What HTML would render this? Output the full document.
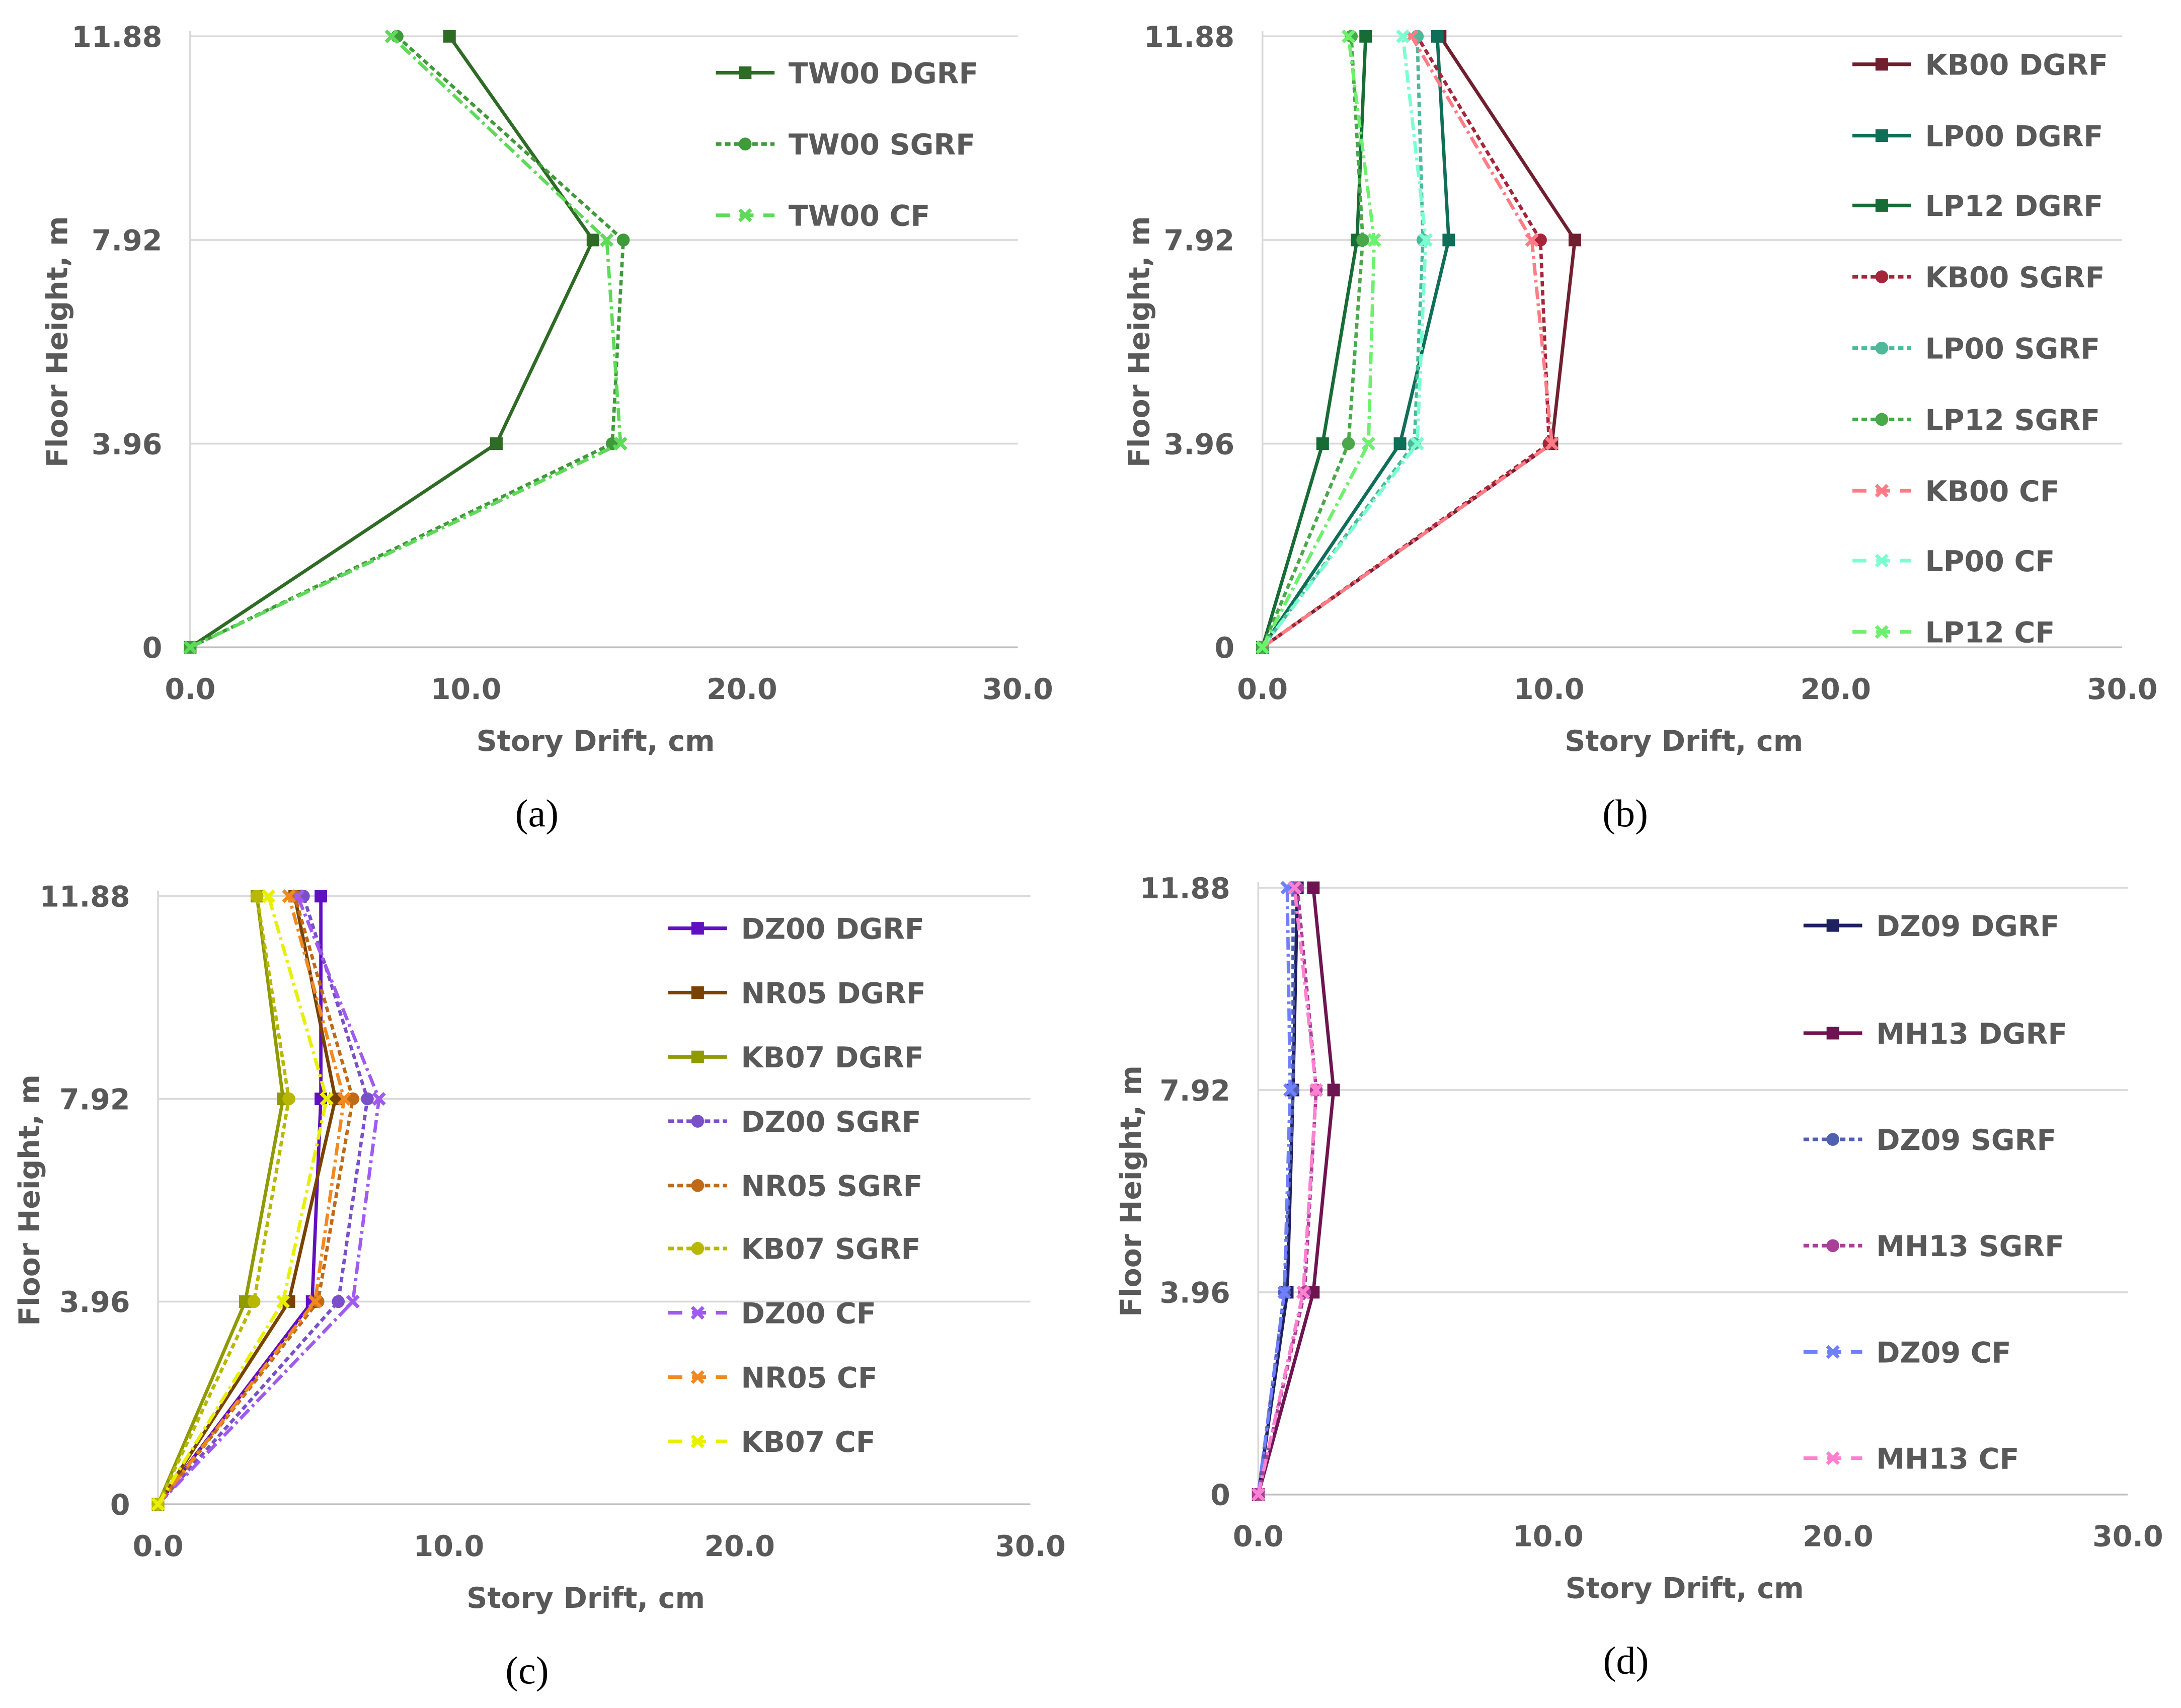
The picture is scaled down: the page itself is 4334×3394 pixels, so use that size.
<!DOCTYPE html>
<html><head><meta charset="utf-8"><style>
html,body{margin:0;padding:0;background:#fff}
svg{display:block}
</style></head><body>
<svg id="fig" width="4334" height="3394" viewBox="0 0 1560 1221.7" xmlns="http://www.w3.org/2000/svg"></svg>
<script>
// Heights (floor levels, m)
const heights = [0, 3.96, 7.92, 11.88];
const yTickLabels = ["0", "3.96", "7.92", "11.88"];
const xTicks = [0, 10, 20, 30];
const xTickLabels = ["0.0", "10.0", "20.0", "30.0"];

// Panel (a)
const a_TW00_DGRF = [0, 11.1, 14.6, 9.4];
const a_TW00_SGRF = [0, 15.3, 15.7, 7.5];
const a_TW00_CF = [0, 15.6, 15.1, 7.3];
// Panel (b)
const b_KB00_DGRF = [0, 10.1, 10.9, 6.2];
const b_LP00_DGRF = [0, 4.8, 6.5, 6.1];
const b_LP12_DGRF = [0, 2.1, 3.3, 3.6];
const b_KB00_SGRF = [0, 10.0, 9.7, 5.4];
const b_LP00_SGRF = [0, 5.3, 5.6, 5.4];
const b_LP12_SGRF = [0, 3.0, 3.5, 3.1];
const b_KB00_CF = [0, 10.1, 9.4, 5.2];
const b_LP00_CF = [0, 5.4, 5.7, 4.9];
const b_LP12_CF = [0, 3.7, 3.9, 3.0];
// Panel (c)
const c_DZ00_DGRF = [0, 5.3, 5.6, 5.6];
const c_NR05_DGRF = [0, 4.5, 6.1, 4.7];
const c_KB07_DGRF = [0, 3.0, 4.3, 3.4];
const c_DZ00_SGRF = [0, 6.2, 7.2, 5.0];
const c_NR05_SGRF = [0, 5.5, 6.7, 4.7];
const c_KB07_SGRF = [0, 3.3, 4.5, 3.4];
const c_DZ00_CF = [0, 6.7, 7.6, 4.8];
const c_NR05_CF = [0, 5.4, 6.4, 4.5];
const c_KB07_CF = [0, 4.3, 5.8, 3.8];
// Panel (d)
const d_DZ09_DGRF = [0, 1.0, 1.2, 1.35];
const d_MH13_DGRF = [0, 1.9, 2.6, 1.9];
const d_DZ09_SGRF = [0, 0.9, 1.2, 1.2];
const d_MH13_SGRF = [0, 1.6, 2.0, 1.35];
const d_DZ09_CF = [0, 0.9, 1.1, 1.0];
const d_MH13_CF = [0, 1.55, 2.0, 1.25];

const NS = "http://www.w3.org/2000/svg";
const svg = document.getElementById('fig');
function el(tag, attrs, parent, text){
  const e = document.createElementNS(NS, tag);
  for (const k in attrs) e.setAttribute(k, attrs[k]);
  if (text !== undefined) e.textContent = text;
  (parent || svg).appendChild(e);
  return e;
}
const FONT = '"DejaVu Sans", "Liberation Sans", sans-serif';
const FS = 20.5;
const DASH = {solid: null, dash: "4 2.5", dashdot: "9 3 2 3"};

function marker(g, type, x, y, color){
  let m;
  if (type === 'sq') m = el('rect', {x:x-4.5, y:y-4.5, width:9, height:9, fill:color}, g);
  else if (type === 'ci') m = el('circle', {cx:x, cy:y, r:4.6, fill:color}, g);
  else {
    m = el('path', {d:`M${x-4},${y-4}L${x+4},${y+4}M${x+4},${y-4}L${x-4},${y+4}`, stroke:color, 'stroke-width':2.6, fill:'none'}, g);
  }
  
  
}

function panel(p){
  const g = el('g', {});
  
  
  const xs = v => p.x0 + (p.x1 - p.x0) * v / 30;
  const ys = v => p.y0 + (p.yTop - p.y0) * v / 11.88;
  heights.forEach((h, i) => {
    const l = el('line', {x1:p.x0, x2:p.x1, y1:ys(h), y2:ys(h), stroke: i===0 ? '#bfbfbf' : '#d9d9d9', 'stroke-width':1.3}, g);
    
    
    const t = el('text', {x:p.x0 - 20, y:ys(h) + 7.5, 'text-anchor':'end', 'font-family':FONT, 'font-weight':'bold', 'font-size':FS, fill:'#595959'}, g, yTickLabels[i]);
    
    
  });
  const ax = el('line', {x1:p.x0, x2:p.x0, y1:p.yTop - 4, y2:p.y0, stroke:'#d9d9d9', 'stroke-width':1.3}, g);
  
  
  xTicks.forEach((v, i) => {
    const t = el('text', {x:xs(v), y:p.y0 + 37, 'text-anchor':'middle', 'font-family':FONT, 'font-weight':'bold', 'font-size':FS, fill:'#595959'}, g, xTickLabels[i]);
    
    
  });
  const xt = el('text', {x:(p.x0 + p.x1)/2 - 6, y:p.y0 + 74, 'text-anchor':'middle', 'font-family':FONT, 'font-weight':'bold', 'font-size':FS, fill:'#595959'}, g, 'Story Drift, cm');
  
  
  const yc = (p.y0 + p.yTop)/2;
  const yt = el('text', {x:p.ytx, y:yc, 'text-anchor':'middle', 'font-family':FONT, 'font-weight':'bold', 'font-size':FS, fill:'#595959', transform:`rotate(-90 ${p.ytx} ${yc})`}, g, 'Floor Height, m');
  
  
  const cap = el('text', {x:(p.x0 + p.x1)/2 - 48, y:p.y0 + 128, 'text-anchor':'middle', 'font-family':'"Liberation Serif", serif', 'font-size':28, fill:'#000'}, g, p.caption);
  
  
  p.series.forEach((s, si) => {
    const pts = s.vals.map((v, i) => `${xs(v)},${ys(heights[i])}`).join(' ');
    const attrs = {points:pts, fill:'none', stroke:s.color, 'stroke-width':2.4, 'stroke-linejoin':'round'};
    if (DASH[s.style]) attrs['stroke-dasharray'] = DASH[s.style];
    const pl = el('polyline', attrs, g);
    
    
    s.vals.forEach((v, i) => marker(g, s.mk, xs(v), ys(heights[i]), s.color));
    const ly = p.legY[si];
    const la = {x1:p.legX, x2:p.legX + 42, y1:ly, y2:ly, stroke:s.color, 'stroke-width':2.6};
    if (s.style === 'dash') la['stroke-dasharray'] = '4 2.5';
    if (s.style === 'dashdot') la['stroke-dasharray'] = '10 7';
    const ll = el('line', la, g);
    
    
    marker(g, s.mk, p.legX + 21, ly, s.color);
    const lt = el('text', {x:p.legX + 52, y:ly + 7.5, 'font-family':FONT, 'font-weight':'bold', 'font-size':FS, fill:'#595959'}, g, s.name);
    
    
  });
}

panel({id:'a', caption:'(a)', x0:136, x1:728, y0:463, yTop:26, ytx:48, legX:512, legY:[52,103,154], series:[
  {name:'TW00 DGRF', vals:a_TW00_DGRF, color:'#2e6b24', style:'solid', mk:'sq'},
  {name:'TW00 SGRF', vals:a_TW00_SGRF, color:'#3f9a39', style:'dash', mk:'ci'},
  {name:'TW00 CF', vals:a_TW00_CF, color:'#5ed95a', style:'dashdot', mk:'x'}]});
panel({id:'b', caption:'(b)', x0:903, x1:1518, y0:463, yTop:26, ytx:822, legX:1325, legY:[46,97,147,198,249,300,351,401,452], series:[
  {name:'KB00 DGRF', vals:b_KB00_DGRF, color:'#701f2e', style:'solid', mk:'sq'},
  {name:'LP00 DGRF', vals:b_LP00_DGRF, color:'#0f6e58', style:'solid', mk:'sq'},
  {name:'LP12 DGRF', vals:b_LP12_DGRF, color:'#176b35', style:'solid', mk:'sq'},
  {name:'KB00 SGRF', vals:b_KB00_SGRF, color:'#a3263a', style:'dash', mk:'ci'},
  {name:'LP00 SGRF', vals:b_LP00_SGRF, color:'#4cb99a', style:'dash', mk:'ci'},
  {name:'LP12 SGRF', vals:b_LP12_SGRF, color:'#4aa84a', style:'dash', mk:'ci'},
  {name:'KB00 CF', vals:b_KB00_CF, color:'#ff7b85', style:'dashdot', mk:'x'},
  {name:'LP00 CF', vals:b_LP00_CF, color:'#7cffd0', style:'dashdot', mk:'x'},
  {name:'LP12 CF', vals:b_LP12_CF, color:'#6df06d', style:'dashdot', mk:'x'}]});
panel({id:'c', caption:'(c)', x0:113, x1:737, y0:1076, yTop:641, ytx:28, legX:478, legY:[664,710,756,802,848,893,939,985,1031], series:[
  {name:'DZ00 DGRF', vals:c_DZ00_DGRF, color:'#6010c0', style:'solid', mk:'sq'},
  {name:'NR05 DGRF', vals:c_NR05_DGRF, color:'#7a4200', style:'solid', mk:'sq'},
  {name:'KB07 DGRF', vals:c_KB07_DGRF, color:'#8f9a00', style:'solid', mk:'sq'},
  {name:'DZ00 SGRF', vals:c_DZ00_SGRF, color:'#7a50c8', style:'dash', mk:'ci'},
  {name:'NR05 SGRF', vals:c_NR05_SGRF, color:'#c06a18', style:'dash', mk:'ci'},
  {name:'KB07 SGRF', vals:c_KB07_SGRF, color:'#b8b800', style:'dash', mk:'ci'},
  {name:'DZ00 CF', vals:c_DZ00_CF, color:'#a05af0', style:'dashdot', mk:'x'},
  {name:'NR05 CF', vals:c_NR05_CF, color:'#f08a20', style:'dashdot', mk:'x'},
  {name:'KB07 CF', vals:c_KB07_CF, color:'#e8f000', style:'dashdot', mk:'x'}]});
panel({id:'d', caption:'(d)', x0:900, x1:1522, y0:1069, yTop:635, ytx:816, legX:1290, legY:[662,739,815,891,967,1043], series:[
  {name:'DZ09 DGRF', vals:d_DZ09_DGRF, color:'#1e2060', style:'solid', mk:'sq'},
  {name:'MH13 DGRF', vals:d_MH13_DGRF, color:'#6e1450', style:'solid', mk:'sq'},
  {name:'DZ09 SGRF', vals:d_DZ09_SGRF, color:'#5060b0', style:'dash', mk:'ci'},
  {name:'MH13 SGRF', vals:d_MH13_SGRF, color:'#a8409a', style:'dash', mk:'ci'},
  {name:'DZ09 CF', vals:d_DZ09_CF, color:'#6f7fff', style:'dashdot', mk:'x'},
  {name:'MH13 CF', vals:d_MH13_CF, color:'#ff80d0', style:'dashdot', mk:'x'}]});
</script>
</body></html>
